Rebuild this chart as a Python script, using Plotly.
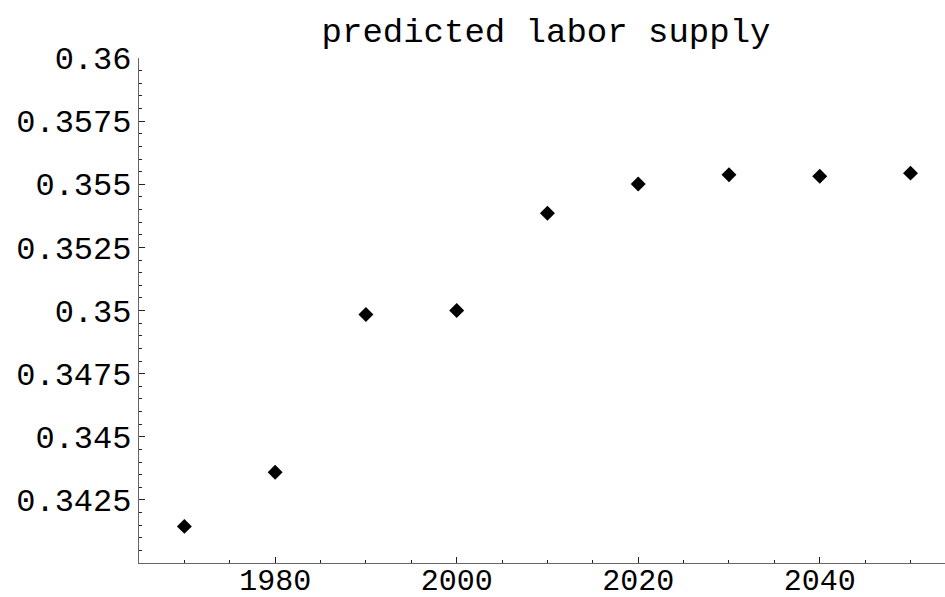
import plotly.graph_objects as go

years = [1970, 1980, 1990, 2000, 2010, 2020, 2030, 2040, 2050]
labor_supply = [0.34145, 0.34359, 0.34984, 0.35000, 0.35385, 0.35501, 0.35538, 0.35532, 0.35544]

y_tickvals = [0.3425, 0.345, 0.3475, 0.35, 0.3525, 0.355, 0.3575, 0.36]
y_ticktext = ["0.3425", "0.345", "0.3475", "0.35", "0.3525", "0.355", "0.3575", "0.36"]
x_tickvals = [1980, 2000, 2020, 2040]
x_ticktext = ["1980", "2000", "2020", "2040"]

FONT = "Liberation Mono, Courier New, monospace"

fig = go.Figure()
fig.add_trace(go.Scatter(
    x=years, y=labor_supply, mode="markers",
    marker=dict(symbol="diamond", size=11.5, color="black", line=dict(width=0)),
    showlegend=False, cliponaxis=False,
))

fig.update_layout(
    width=945, height=597,
    margin=dict(l=139, r=0, t=58, b=34, autoexpand=False),
    paper_bgcolor="white", plot_bgcolor="white",
    font=dict(family=FONT, size=32, color="black"),
    title=dict(text="predicted labor supply", x=0.505, xanchor="center", xref="paper",
               y=0.95, yref="container", yanchor="middle",
               font=dict(family=FONT, size=34, color="black")),
)

fig.update_xaxes(
    range=[1965, 2053.8], showgrid=False, zeroline=False, automargin=False,
    showline=True, linecolor="#666666", linewidth=1.3,
    tickmode="array", tickvals=x_tickvals, ticktext=x_ticktext,
    ticks="inside", ticklen=6, tickwidth=1, tickcolor="#222222",
    minor=dict(ticks="inside", ticklen=3, tickwidth=1, tickcolor="#222222", dtick=5, tick0=1965, showgrid=False),
    tickfont=dict(family=FONT, size=30, color="black"),
    ticklabelstandoff=-10,
)
fig.update_yaxes(
    range=[0.34, 0.36], showgrid=False, zeroline=False, automargin=False,
    showline=True, linecolor="#666666", linewidth=1.3,
    tickmode="array", tickvals=y_tickvals, ticktext=y_ticktext,
    ticks="inside", ticklen=6, tickwidth=1, tickcolor="#222222",
    minor=dict(ticks="inside", ticklen=3, tickwidth=1, tickcolor="#222222", dtick=0.0005, tick0=0.34, showgrid=False),
    tickfont=dict(family=FONT, size=32, color="black"),
)

fig.write_html("out.html", config={"displayModeBar": False},
               post_script="document.body.style.margin='0';document.body.style.overflow='hidden';")
